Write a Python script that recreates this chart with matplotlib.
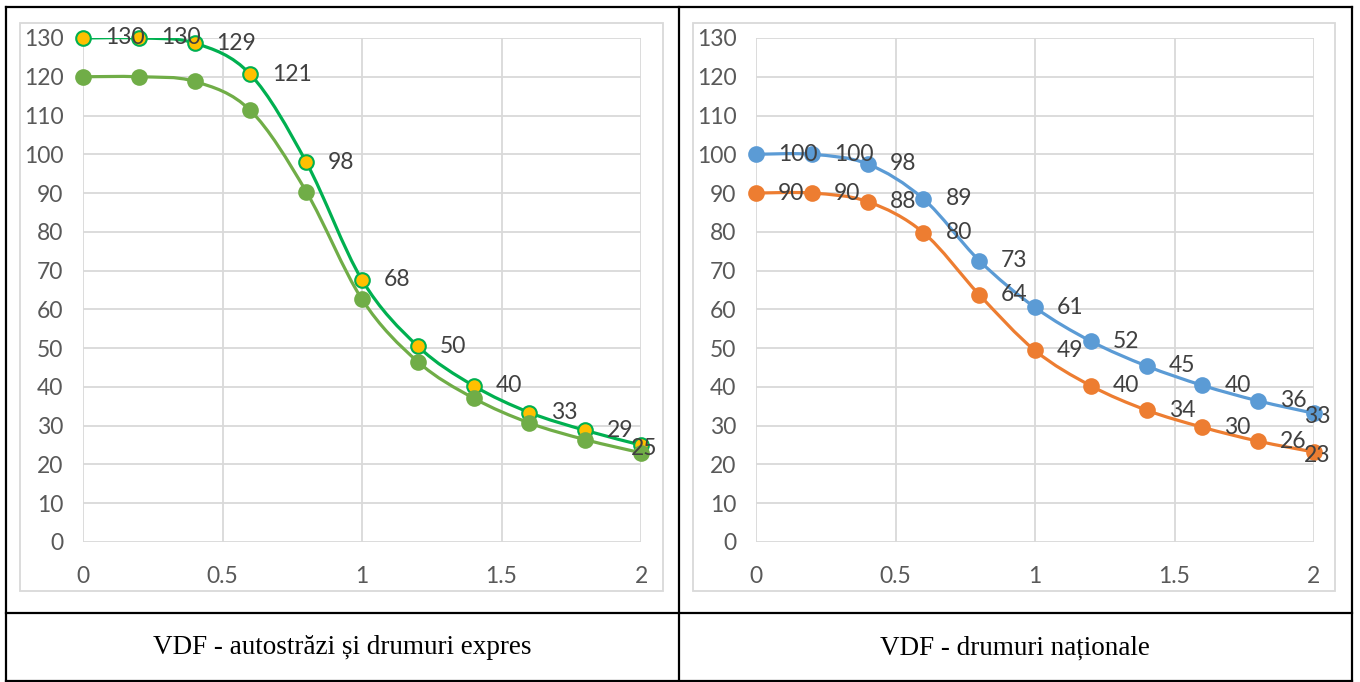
import matplotlib
matplotlib.use("Agg")
import matplotlib.pyplot as plt
from matplotlib.path import Path
import matplotlib.patches as patches
from matplotlib.lines import Line2D

# data
x = [0, 0.2, 0.4, 0.6, 0.8, 1.0, 1.2, 1.4, 1.6, 1.8, 2.0]
auto_130 = [130, 130, 128.7, 120.6, 98, 67.6, 50.5, 40.3, 33.4, 28.8, 25]
auto_120 = [120, 120, 118.8, 111.3, 90.4, 62.6, 46.5, 37.1, 30.7, 26.4, 23]
auto_130_labels = ["130", "130", "129", "121", "98", "68", "50", "40", "33", "29", "25"]
nat_100 = [100, 100, 97.5, 88.5, 72.6, 60.5, 51.8, 45.4, 40.4, 36.4, 33.2]
nat_90 = [90, 90, 87.8, 79.8, 63.8, 49.4, 40.3, 34.0, 29.6, 26.0, 23.2]
nat_100_labels = ["100", "100", "98", "89", "73", "61", "52", "45", "40", "36", "33"]
nat_90_labels = ["90", "90", "88", "80", "64", "49", "40", "34", "30", "26", "23"]
captions = ["VDF - autostrăzi și drumuri expres", "VDF - drumuri naționale"]

W, H = 1360, 682
fig = plt.figure(figsize=(W / 100, H / 100), dpi=100)


def smooth_path(xs, ys):
    # Excel-like smoothed line (Catmull-Rom as cubic Bezier)
    pts = list(zip(xs, ys))
    n = len(pts)
    verts = [pts[0]]
    codes = [Path.MOVETO]
    for i in range(n - 1):
        p0 = pts[i - 1] if i > 0 else pts[i]
        p1 = pts[i]
        p2 = pts[i + 1]
        p3 = pts[i + 2] if i + 2 < n else pts[i + 1]
        c1 = (p1[0] + (p2[0] - p0[0]) / 6, p1[1] + (p2[1] - p0[1]) / 6)
        c2 = (p2[0] - (p3[0] - p1[0]) / 6, p2[1] - (p3[1] - p1[1]) / 6)
        verts += [c1, c2, p2]
        codes += [Path.CURVE4] * 3
    return Path(verts, codes)


def series(ax, ys, line_c, face_c, labels=None):
    ax.add_patch(patches.PathPatch(smooth_path(x, ys), fill=False, edgecolor=line_c,
                                   lw=2.3, capstyle='round', zorder=3))
    ax.plot(x, ys, 'o', ms=10.5, mfc=face_c, mec=line_c, mew=1.5, zorder=4, clip_on=False)
    if labels:
        for i, (xi, yi, lab) in enumerate(zip(x, ys, labels)):
            # last label is pulled back inside the plot area
            dx, dy = (22, 0) if i < len(x) - 1 else (-10, -3)
            ax.annotate(lab, (xi, yi), xytext=(dx, dy), textcoords='offset pixels',
                        ha='left', va='center', fontsize=16.5, color='#404040',
                        family='Lato', zorder=6)


def setup(ax):
    ax.set_xlim(0, 2)
    ax.set_ylim(0, 130)
    ax.set_xticks([0, 0.5, 1, 1.5, 2])
    ax.set_xticklabels(["0", "0.5", "1", "1.5", "2"])
    ax.set_yticks(range(0, 131, 10))
    ax.grid(True, color='#D9D9D9', lw=1.3)
    ax.set_axisbelow(True)
    for s in ax.spines.values():
        s.set_visible(False)
    ax.tick_params(length=0, labelsize=16.5, labelcolor='#595959')
    ax.tick_params(axis='y', pad=14)
    ax.tick_params(axis='x', pad=17)
    for t in ax.get_xticklabels() + ax.get_yticklabels():
        t.set_family('Lato')


def fx(px):
    return px / W


def fy(py):
    return 1 - py / H


ax1 = fig.add_axes([fx(83), fy(542), fx(641 - 83), (542 - 38) / H])
ax2 = fig.add_axes([fx(756), fy(542), fx(1314 - 756), (542 - 38) / H])
for ax in (ax1, ax2):
    setup(ax)

series(ax1, auto_130, '#00B050', '#FFC000', auto_130_labels)
series(ax1, auto_120, '#70AD47', '#70AD47')
series(ax2, nat_100, '#5B9BD5', '#5B9BD5', nat_100_labels)
series(ax2, nat_90, '#ED7D31', '#ED7D31', nat_90_labels)

# chart area borders
for x0, x1 in [(20, 663), (693, 1335)]:
    fig.add_artist(patches.Rectangle((fx(x0), fy(591)), fx(x1 - x0), (591 - 23) / H,
                                     transform=fig.transFigure, fill=False,
                                     edgecolor='#D9D9D9', lw=1.3, zorder=0))

# table lines
tl = dict(transform=fig.transFigure, color='black', lw=1.6, zorder=10)
fig.add_artist(Line2D([fx(6), fx(1352)], [fy(7), fy(7)], **tl))
fig.add_artist(Line2D([fx(6), fx(1352)], [fy(613), fy(613)], **tl))
fig.add_artist(Line2D([fx(6), fx(1352)], [fy(681), fy(681)], **tl))
for xv in (6, 679, 1352):
    fig.add_artist(Line2D([fx(xv), fx(xv)], [fy(7), fy(681)], **tl))

# captions
fig.text(fx(342), fy(648), captions[0], ha='center', va='center', fontsize=19.5,
         family='Liberation Serif', color='black')
fig.text(fx(1015), fy(648), captions[1], ha='center', va='center', fontsize=19.5,
         family='Liberation Serif', color='black')

fig.savefig('out.png', dpi=100)
